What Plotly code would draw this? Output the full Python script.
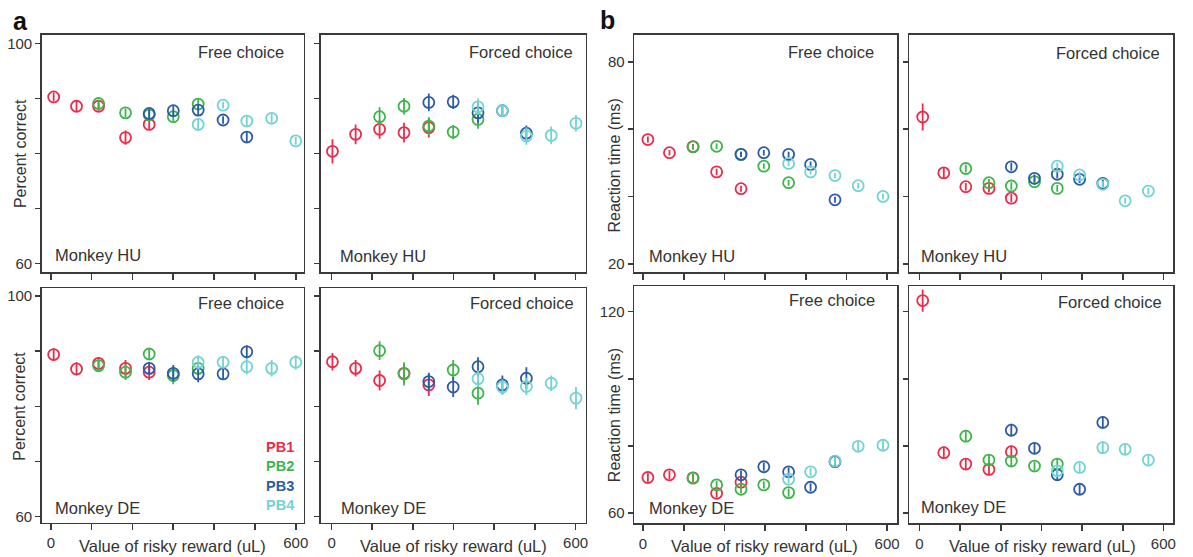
import plotly.graph_objects as go

# ---------------- data ----------------
series_names = ["PB1", "PB2", "PB3", "PB4"]
series_colors = ["#ee2a4b", "#3db54a", "#2c5ba6", "#72d3d3"]

# x grids (value of risky reward, uL); PB1 uses points 1-5, PB2 3-7, PB3 5-9, PB4 7-11
x_a_free = [7, 63, 117, 183, 241, 300, 361, 422, 480, 541, 600]
x_a_forced = [2, 59, 118, 178, 239, 299, 360, 420, 479, 540, 601]
x_b_free = [12, 65, 123, 181, 241, 297, 358, 412, 472, 529, 590]
x_b_forced = [8, 60, 114, 171, 226, 283, 339, 394, 451, 506, 563]

# Percent correct, Monkey HU, free choice
hu_free_pct = [[90.3, 88.6, 88.6, 82.9, 85.3],
               [89.1, 87.4, 87.0, 86.7, 89.0],
               [87.3, 87.8, 87.9, 86.1, 83.0],
               [85.3, 88.8, 85.9, 86.4, 82.3]]
hu_free_pct_err = [[0.8, 0.9, 0.8, 1.3, 1.0],
                   [0.7, 0.8, 0.8, 0.8, 0.9],
                   [0.9, 0.9, 0.9, 0.7, 1.1],
                   [1.1, 0.6, 0.9, 0.8, 0.7]]
# Percent correct, Monkey HU, forced choice
hu_forced_pct = [[80.4, 83.5, 84.4, 83.8, 84.7],
                 [86.7, 88.6, 85.0, 83.9, 86.2],
                 [89.3, 89.4, 87.4, 87.8, 83.7],
                 [88.5, 87.8, 83.2, 83.3, 85.5]]
hu_forced_pct_err = [[2.2, 1.8, 1.7, 1.8, 1.8],
                     [1.7, 1.5, 1.6, 1.3, 1.7],
                     [1.6, 1.3, 1.8, 1.1, 1.4],
                     [1.5, 1.1, 1.6, 1.6, 1.5]]
# Percent correct, Monkey DE, free choice
de_free_pct = [[89.4, 86.8, 87.8, 86.9, 86.2],
               [87.4, 86.2, 89.5, 85.6, 86.9],
               [86.9, 86.0, 85.9, 85.9, 89.9],
               [88.0, 88.0, 87.2, 86.9, 88.0]]
de_free_pct_err = [[1.1, 1.2, 1.1, 1.5, 1.4],
                   [1.0, 1.4, 1.1, 1.6, 1.2],
                   [1.1, 1.5, 1.5, 1.0, 1.2],
                   [1.3, 1.1, 1.4, 1.5, 1.3]]
# Percent correct, Monkey DE, forced choice
de_forced_pct = [[88.1, 86.9, 84.7, 86.0, 83.9],
                 [90.1, 85.9, None, 86.6, 82.4],
                 [84.5, 83.5, 87.2, 83.9, 85.1],
                 [85.0, 83.5, 83.6, 84.2, 81.5]]
de_forced_pct_err = [[1.6, 1.5, 1.8, 1.7, 2.0],
                     [1.7, 2.1, 0.0, 1.8, 2.1],
                     [1.6, 1.8, 1.7, 1.7, 2.0],
                     [1.5, 1.4, 1.6, 1.4, 2.0]]
# Reaction time (ms), Monkey HU, free choice
hu_free_rt = [[56.9, 53.0, 54.8, 47.3, 42.3],
              [54.7, 54.9, 52.5, 49.0, 44.1],
              [52.5, 53.0, 52.5, 49.5, 39.0],
              [49.8, 47.3, 46.2, 43.2, 40.0]]
hu_free_rt_err = [[0.9, 0.8, 0.8, 0.9, 0.9],
                  [0.8, 0.8, 0.8, 0.8, 0.9],
                  [0.8, 0.8, 0.8, 0.9, 0.9],
                  [0.8, 0.8, 0.8, 0.8, 0.8]]
# Reaction time (ms), Monkey HU, forced choice
hu_forced_rt = [[63.6, 47.0, 42.9, 42.4, 39.5],
                [48.3, 44.1, 43.1, 44.4, 42.4],
                [48.8, 45.4, 46.6, 45.1, 43.9],
                [49.0, 46.4, 43.6, 38.7, 41.6]]
hu_forced_rt_err = [[4.0, 1.5, 1.1, 1.2, 1.2],
                    [1.1, 1.1, 1.1, 1.0, 1.0],
                    [1.2, 1.1, 1.2, 1.1, 1.1],
                    [1.1, 1.0, 1.0, 0.9, 1.0]]
# Reaction time (ms), Monkey DE, free choice
de_free_rt = [[70.6, 71.4, 70.5, 65.9, 69.2],
              [70.4, 68.4, 67.1, 68.4, 66.1],
              [71.4, 73.8, 72.3, 67.7, 75.3],
              [70.1, 72.3, 75.5, 79.9, 80.2]]
de_free_rt_err = [[1.3, 1.3, 1.2, 1.3, 1.3],
                  [1.2, 1.2, 1.2, 1.1, 1.2],
                  [1.3, 1.2, 1.3, 1.2, 1.3],
                  [1.2, 1.2, 1.3, 1.4, 1.4]]
# Reaction time (ms), Monkey DE, forced choice
de_forced_rt = [[123.3, 78.0, 74.6, 73.0, 78.3],
                [82.9, 75.8, 75.5, 74.0, 74.6],
                [84.7, 79.3, 71.4, 67.1, 87.0],
                [72.6, 73.6, 79.5, 79.0, 75.8]]
de_forced_rt_err = [[3.3, 1.8, 1.6, 1.7, 1.8],
                    [1.8, 1.6, 1.6, 1.4, 1.5],
                    [1.9, 1.7, 1.8, 1.5, 1.8],
                    [1.4, 1.5, 1.8, 1.5, 1.4]]

x_ticks = [0, 100, 200, 300, 400, 500, 600]
x_ticktext = ["0", "", "", "", "", "", "600"]
pct_ticks = [60, 70, 80, 90, 100]
pct_ticktext = ["60", "", "", "", "100"]
rt_top_ticks = [20, 40, 60, 80]
rt_top_ticktext = ["20", "", "", "80"]
rt_bot_ticks = [60, 80, 100, 120]
rt_bot_ticktext = ["60", "", "", "120"]

# ---------------- layout geometry (page pixels) ----------------
W, H = 1193, 557
FONT = "Liberation Sans, Arial, Helvetica, sans-serif"
TXT = "#333333"
LINE = "#3a3a3a"

windows = [slice(0, 5), slice(2, 7), slice(4, 9), slice(6, 11)]

panels = [
    dict(px=(42, 305), py=(34, 272.7), xr=(-22, 619.5), yr=(58.4, 101.6), xg=x_a_free,
         d=hu_free_pct, e=hu_free_pct_err, yt=pct_ticks, ytt=pct_ticktext, xl=False,
         title="Free choice", tpos=(287, 51.7), monkey="Monkey HU", mpos=(53, 255)),
    dict(px=(322, 588), py=(34, 272.7), xr=(-27, 624.5), yr=(58.4, 101.6), xg=x_a_forced,
         d=hu_forced_pct, e=hu_forced_pct_err, yt=pct_ticks, ytt=[""] * 5, xl=False,
         title="Forced choice", tpos=(577, 51.7), monkey="Monkey HU", mpos=(339, 256)),
    dict(px=(42, 305), py=(289, 524.5), xr=(-22, 619.5), yr=(58.9, 101.4), xg=x_a_free,
         d=de_free_pct, e=de_free_pct_err, yt=pct_ticks, ytt=pct_ticktext, xl=True,
         title="Free choice", tpos=(287, 303.3), monkey="Monkey DE", mpos=(53, 510), xt=173),
    dict(px=(322, 588), py=(289, 524.5), xr=(-27, 624.5), yr=(58.9, 101.4), xg=x_a_forced,
         d=de_forced_pct, e=de_forced_pct_err, yt=pct_ticks, ytt=[""] * 5, xl=True,
         title="Forced choice", tpos=(578, 303.3), monkey="Monkey DE", mpos=(340, 510), xt=455),
    dict(px=(637, 901), py=(34, 272.7), xr=(-21.3, 625), yr=(17.5, 88), xg=x_b_free,
         d=hu_free_rt, e=hu_free_rt_err, yt=rt_top_ticks, ytt=rt_top_ticktext, xl=False,
         title="Free choice", tpos=(880, 51.7), monkey="Monkey HU", mpos=(650, 256.7)),
    dict(px=(913, 1178), py=(34, 272.7), xr=(-25.2, 623.8), yr=(17.5, 88), xg=x_b_forced,
         d=hu_forced_rt, e=hu_forced_rt_err, yt=rt_top_ticks, ytt=[""] * 4, xl=False,
         title="Forced choice", tpos=(1167, 52.7), monkey="Monkey HU", mpos=(923, 256)),
    dict(px=(637, 901), py=(287, 525), xr=(-21.3, 625), yr=(57, 127.5), xg=x_b_free,
         d=de_free_rt, e=de_free_rt_err, yt=rt_bot_ticks, ytt=rt_bot_ticktext, xl=True,
         title="Free choice", tpos=(881, 300.7), monkey="Monkey DE", mpos=(650, 510), xt=768),
    dict(px=(913, 1178), py=(287, 525), xr=(-25.2, 623.8), yr=(57, 127.5), xg=x_b_forced,
         d=de_forced_rt, e=de_forced_rt_err, yt=rt_bot_ticks, ytt=[""] * 4, xl=True,
         title="Forced choice", tpos=(1169, 302.3), monkey="Monkey DE", mpos=(923, 509), xt=1047),
]


def px2x(x):
    return x / W


def px2y(y):
    return 1 - y / H


def note(x, y, text, size, color=TXT, xanchor="center", angle=0):
    return dict(x=px2x(x), y=px2y(y), xref="paper", yref="paper", text=text,
                showarrow=False, xanchor=xanchor, yanchor="middle", textangle=angle,
                font=dict(family=FONT, size=size, color=color))


fig = go.Figure()
layout = {}
annotations = []

for i, p in enumerate(panels):
    n = i + 1
    xa = "x" if n == 1 else f"x{n}"
    ya = "y" if n == 1 else f"y{n}"
    xkey = "xaxis" if n == 1 else f"xaxis{n}"
    ykey = "yaxis" if n == 1 else f"yaxis{n}"

    for s in range(4):
        fig.add_trace(go.Scatter(
            x=p["xg"][windows[s]], y=p["d"][s],
            mode="markers", name=series_names[s], showlegend=False,
            marker=dict(symbol="circle-open", size=11, color=series_colors[s],
                        line=dict(width=1.8, color=series_colors[s])),
            error_y=dict(type="data", array=p["e"][s], visible=True, thickness=1.8,
                         width=0, color=series_colors[s]),
            xaxis=xa, yaxis=ya, cliponaxis=False,
        ))

    layout[xkey] = dict(
        domain=[px2x(p["px"][0]), px2x(p["px"][1])], range=list(p["xr"]), anchor=ya,
        showline=True, mirror=True, linecolor=LINE, linewidth=1.6,
        ticks="outside", ticklen=6, tickwidth=1.7, tickcolor=LINE,
        tickvals=x_ticks, ticktext=(x_ticktext if p["xl"] else [""] * 7),
        tickfont=dict(family=FONT, size=15, color=TXT),
        showgrid=False, zeroline=False, fixedrange=True,
    )
    layout[ykey] = dict(
        domain=[px2y(p["py"][1]), px2y(p["py"][0])], range=list(p["yr"]), anchor=xa,
        showline=True, mirror=True, linecolor=LINE, linewidth=1.6,
        ticks="outside", ticklen=5, tickwidth=1.7, tickcolor=LINE,
        tickvals=p["yt"], ticktext=p["ytt"],
        tickfont=dict(family=FONT, size=15, color=TXT),
        showgrid=False, zeroline=False, fixedrange=True,
    )

    annotations.append(note(p["tpos"][0], p["tpos"][1], p["title"], 16.5, xanchor="right"))
    annotations.append(note(p["mpos"][0], p["mpos"][1], p["monkey"], 16.5, xanchor="left"))
    if p["xl"]:
        annotations.append(note(p["xt"], 548, "Value of risky reward (uL)", 16.5))

# axis titles
for yc in (153, 407):
    annotations.append(note(20, yc, "Percent correct", 16, angle=-90))
for yc in (165, 416):
    annotations.append(note(617, yc, "Reaction time (ms)", 16, angle=-90))

# panel letters
annotations.append(note(21, 20, "<b>a</b>", 25, color="#111111"))
annotations.append(note(610, 19, "<b>b</b>", 25, color="#111111"))

# legend text
for name, col, yl in zip(series_names, series_colors, (448, 468, 488, 507)):
    annotations.append(note(297, yl, f"<b>{name}</b>", 14.5, color=col, xanchor="right"))

fig.update_layout(
    width=W, height=H, margin=dict(l=0, r=0, t=0, b=0),
    paper_bgcolor="white", plot_bgcolor="white",
    annotations=annotations, showlegend=False, **layout,
)

fig.write_html(
    "out.html",
    config={"displayModeBar": False, "staticPlot": True},
    post_script="document.body.style.margin='0';document.body.style.overflow='hidden';",
)
